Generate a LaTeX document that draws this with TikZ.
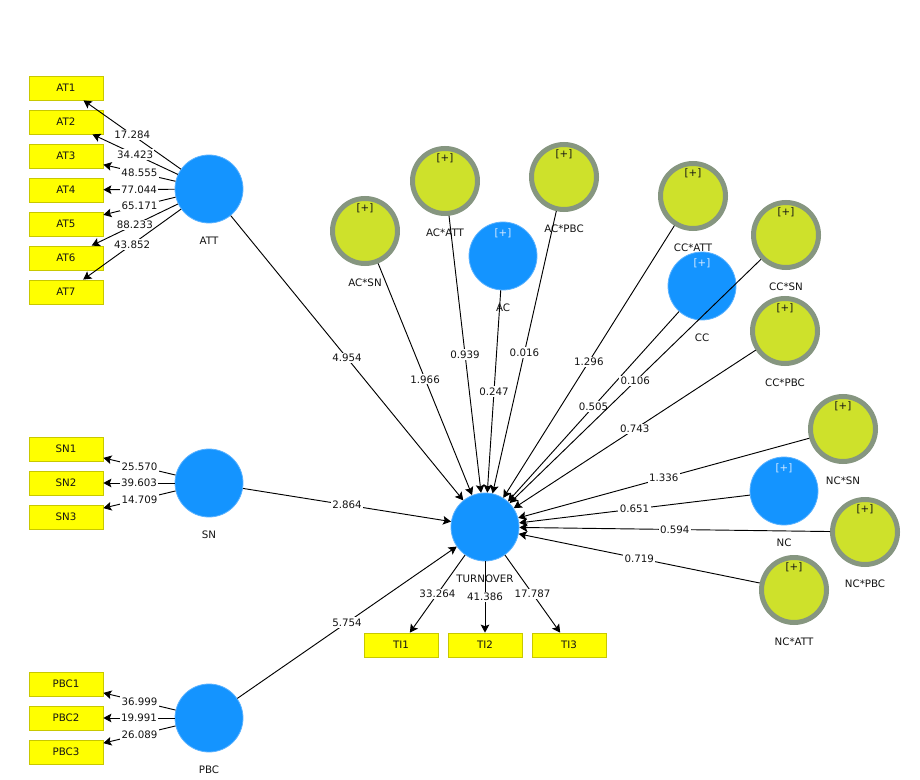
\documentclass[tikz,border=0pt]{standalone}
\usepackage{fontspec}
\newfontfamily\dvs{DejaVu Sans}
\usetikzlibrary{arrows.meta}
\definecolor{lvblue}{RGB}{20,148,255}
\definecolor{lvedge}{RGB}{90,178,255}
\definecolor{indyellow}{RGB}{255,255,0}
\definecolor{indedge}{RGB}{200,200,0}
\definecolor{modgreen}{RGB}{206,225,43}
\definecolor{modring}{RGB}{134,150,128}
\definecolor{txt}{RGB}{20,20,20}
\definecolor{plusw}{RGB}{215,235,255}
\begin{document}
\begin{tikzpicture}[x=0.75pt,y=-0.75pt,
  lblfont/.style={font=\dvs\fontsize{7.7}{9}\selectfont},
  indbox/.style={draw=indedge, fill=indyellow, line width=0.6pt, minimum width=55.5pt, minimum height=18pt, inner sep=0pt, lblfont, text=txt},
  lvcirc/.style={circle, fill=lvblue, draw=lvedge, line width=0.6pt, minimum size=51pt, inner sep=0pt,
     label={[lblfont, text=txt, anchor=center, label distance=12.7pt]below:#1}},
  lvplus/.style={lvcirc={#1}, label={[lblfont, text=plusw, anchor=center, label distance=-8.55pt]above:{[+]}}},
  modcirc/.style={circle, fill=modgreen, draw=modring, line width=3.75pt, minimum size=48.75pt, inner sep=0pt,
     label={[lblfont, text=txt, anchor=center, label distance=12.25pt]below:#1},
     label={[lblfont, text=txt, anchor=center, label distance=-9pt]above:{[+]}}},
  coef/.style={fill=white, inner sep=1pt, lblfont, text=txt},
  conn/.style={draw=black, line width=0.7pt, -{Stealth[length=6pt,width=6.5pt,inset=1.2pt]}}
]
\fill[white] (0,0) rectangle (920,780);
\useasboundingbox (0,0) rectangle (920,780);

% indicators
\foreach \i/\y in {1/88,2/122,3/156,4/190,5/224,6/258,7/292}
  \node[indbox] (AT\i) at (66,\y) {AT\i};
\foreach \i/\y in {1/449,2/483,3/517}
  \node[indbox] (SN\i) at (66,\y) {SN\i};
\foreach \i/\y in {1/684,2/718,3/752}
  \node[indbox] (PBC\i) at (66,\y) {PBC\i};
\foreach \i/\x in {1/401,2/485,3/569}
  \node[indbox] (TI\i) at (\x,645) {TI\i};

% latent variables
\node[lvcirc=ATT] (ATT) at (209,189) {};
\node[lvcirc=SN] (SN) at (209,483) {};
\node[lvcirc=PBC] (PBC) at (209,718) {};
\node[lvcirc=TURNOVER] (TO) at (485,527) {};
\node[lvplus=AC] (AC) at (503,256) {};
\node[lvplus=CC] (CC) at (702,286) {};
\node[lvplus=NC] (NC) at (784,491) {};

% moderators
\node[modcirc=AC*SN] (ACSN) at (365,231) {};
\node[modcirc=AC*ATT] (ACATT) at (445,181) {};
\node[modcirc=AC*PBC] (ACPBC) at (564,177) {};
\node[modcirc=CC*ATT] (CCATT) at (693,196) {};
\node[modcirc=CC*SN] (CCSN) at (786,235) {};
\node[modcirc=CC*PBC] (CCPBC) at (785,331) {};
\node[modcirc=NC*SN] (NCSN) at (843,429) {};
\node[modcirc=NC*PBC] (NCPBC) at (865,532) {};
\node[modcirc=NC*ATT] (NCATT) at (794,590) {};

% outer loadings
\foreach \i/\v in {1/17.284,2/34.423,3/48.555,4/77.044,5/65.171,6/88.233,7/43.852}
  \draw[conn] (ATT) -- node[coef] {\v} (AT\i);
\foreach \i/\v in {1/25.570,2/39.603,3/14.709}
  \draw[conn] (SN) -- node[coef] {\v} (SN\i);
\foreach \i/\v in {1/36.999,2/19.991,3/26.089}
  \draw[conn] (PBC) -- node[coef] {\v} (PBC\i);
\foreach \i/\v in {1/33.264,2/41.386,3/17.787}
  \draw[conn] (TO) -- node[coef] {\v} (TI\i);

% inner model
\draw[conn] (ATT) -- node[coef] {4.954} (TO);
\draw[conn] (SN) -- node[coef] {2.864} (TO);
\draw[conn] (PBC) -- node[coef] {5.754} (TO);
\draw[conn] (ACSN) -- node[coef] {1.966} (TO);
\draw[conn] (ACATT) -- node[coef] {0.939} (TO);
\draw[conn] (AC) -- node[coef] {0.247} (TO);
\draw[conn] (ACPBC) -- node[coef] {0.016} (TO);
\draw[conn] (CCATT) -- node[coef] {1.296} (TO);
\draw[conn] (CC) -- node[coef] {0.505} (TO);
\draw[conn] (CCSN) -- node[coef] {0.106} (TO);
\draw[conn] (CCPBC) -- node[coef] {0.743} (TO);
\draw[conn] (NCSN) -- node[coef] {1.336} (TO);
\draw[conn] (NC) -- node[coef] {0.651} (TO);
\draw[conn] (NCPBC) -- node[coef] {0.594} (TO);
\draw[conn] (NCATT) -- node[coef] {0.719} (TO);
\end{tikzpicture}
\end{document}
